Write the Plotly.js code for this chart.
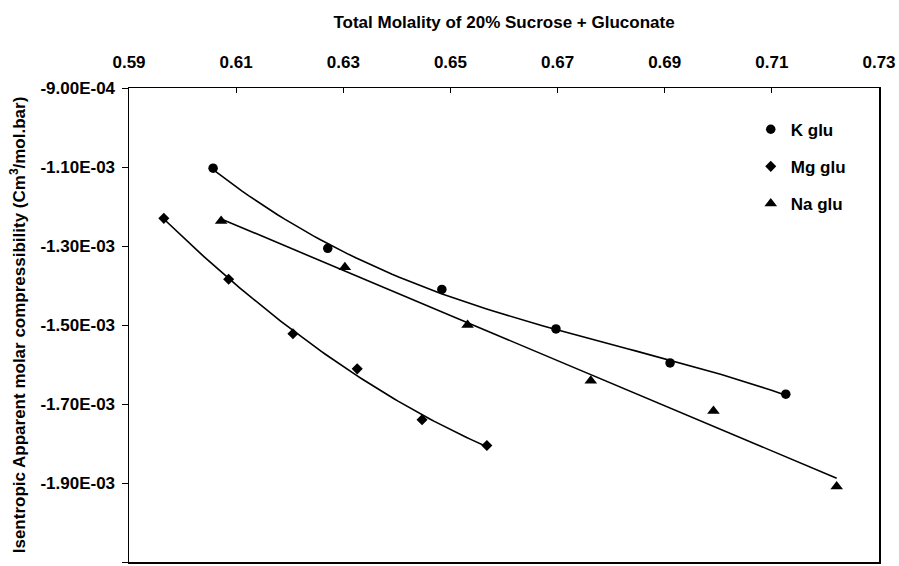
<!DOCTYPE html>
<html>
<head>
<meta charset="utf-8">
<script src="https://cdn.plot.ly/plotly-3.0.1.min.js"></script>
<style>
  html, body { margin: 0; padding: 0; background: #fff; }
  #chart { width: 899px; height: 566px; }
</style>
</head>
<body>
<div id="chart"></div>
<script>
// Total molality (mol/kg) and isentropic apparent molar compressibility (cm3/mol.bar)
const kGluX = [0.6057, 0.6271, 0.6484, 0.6697, 0.6910, 0.7126];
const kGluY = [-0.001103, -0.001306, -0.001410, -0.001510, -0.001596, -0.001675];

const mgGluX = [0.5965, 0.6086, 0.6206, 0.6326, 0.6447, 0.6568];
const mgGluY = [-0.001230, -0.001384, -0.001522, -0.001611, -0.001740, -0.001805];

const naGluX = [0.6072, 0.6303, 0.6532, 0.6762, 0.6991, 0.7221];
const naGluY = [-0.001237, -0.001354, -0.001500, -0.001641, -0.001718, -0.001909];

const xTickVals = [0.59, 0.61, 0.63, 0.65, 0.67, 0.69, 0.71, 0.73];
const xTickText = ['0.59', '0.61', '0.63', '0.65', '0.67', '0.69', '0.71', '0.73'];
const yTickVals = [-0.0009, -0.0011, -0.0013, -0.0015, -0.0017, -0.0019, -0.0021];
const yTickText = ['-9.00E-04', '-1.10E-03', '-1.30E-03', '-1.50E-03', '-1.70E-03', '-1.90E-03', '-2.10E-03'];

// Least-squares polynomial trendline (x centred for numerical stability)
function polyFit(xs, ys, deg) {
  const xm = xs.reduce((a, b) => a + b, 0) / xs.length;
  const n = deg + 1;
  const A = Array.from({length: n}, () => new Array(n + 1).fill(0));
  xs.forEach((x, i) => {
    const u = x - xm;
    for (let r = 0; r < n; r++) {
      for (let c = 0; c < n; c++) A[r][c] += Math.pow(u, r + c);
      A[r][n] += ys[i] * Math.pow(u, r);
    }
  });
  for (let p = 0; p < n; p++) {
    let best = p;
    for (let r = p + 1; r < n; r++) if (Math.abs(A[r][p]) > Math.abs(A[best][p])) best = r;
    const tmp = A[p]; A[p] = A[best]; A[best] = tmp;
    for (let r = 0; r < n; r++) {
      if (r === p) continue;
      const f = A[r][p] / A[p][p];
      for (let c = p; c <= n; c++) A[r][c] -= f * A[p][c];
    }
  }
  const coef = A.map((row, i) => row[n] / row[i]);
  return x => coef.reduce((s, c, i) => s + c * Math.pow(x - xm, i), 0);
}

// Sample the fitted curve across the span of the measured data
function trend(xs, ys, deg) {
  const f = polyFit(xs, ys, deg);
  const lo = Math.min(...xs), hi = Math.max(...xs);
  const tx = [], ty = [];
  for (let i = 0; i <= 80; i++) {
    const x = lo + (hi - lo) * i / 80;
    tx.push(x); ty.push(f(x));
  }
  return {tx, ty};
}

const kT = trend(kGluX, kGluY, 3);
const mgT = trend(mgGluX, mgGluY, 2);
const naT = trend(naGluX, naGluY, 1);

const lineStyle = {color: '#000', width: 1.6};
const FONT = 'Liberation Sans, Arial, Helvetica, sans-serif';

const traces = [
  {x: kT.tx, y: kT.ty, mode: 'lines', line: lineStyle, showlegend: false, hoverinfo: 'skip'},
  {x: mgT.tx, y: mgT.ty, mode: 'lines', line: lineStyle, showlegend: false, hoverinfo: 'skip'},
  {x: naT.tx, y: naT.ty, mode: 'lines', line: lineStyle, showlegend: false, hoverinfo: 'skip'},
  {x: kGluX, y: kGluY, mode: 'markers', name: 'K glu', legendgroup: 'k',
   marker: {symbol: 'circle', size: 9.5, color: '#000'}},
  {x: mgGluX, y: mgGluY, mode: 'markers', name: 'Mg glu', legendgroup: 'mg',
   marker: {symbol: 'diamond', size: 8.5, color: '#000'}},
  {x: naGluX, y: naGluY, mode: 'markers', name: 'Na glu', legendgroup: 'na',
   marker: {symbol: 'triangle-up', size: 11, color: '#000'}}
];

const layout = {
  width: 899, height: 566,
  margin: {l: 129, r: 20, t: 88, b: 4},
  paper_bgcolor: '#fff', plot_bgcolor: '#fff',
  font: {family: FONT, color: '#000', size: 17},
  showlegend: true,
  legend: {
    x: 0.829, y: 0.95, xanchor: 'left', yanchor: 'top',
    font: {family: FONT, size: 17, weight: 'bold', color: '#000'},
    tracegroupgap: 12, bgcolor: 'rgba(0,0,0,0)'
  },
  xaxis: {
    side: 'top', range: [0.59, 0.73], autorange: false,
    tickmode: 'array', tickvals: xTickVals, ticktext: xTickText,
    ticks: 'inside', ticklen: 5, tickcolor: '#000', tickwidth: 1,
    ticklabelstandoff: 12,
    showline: true, linecolor: '#000', linewidth: 1.5, mirror: true,
    showgrid: false, zeroline: false,
    tickfont: {family: FONT, size: 17, weight: 'bold', color: '#000'},
    title: {text: 'Total Molality of 20% Sucrose + Gluconate', standoff: 20,
            font: {family: FONT, size: 17, weight: 'bold', color: '#000'}}
  },
  yaxis: {
    range: [-0.0021, -0.0009], autorange: false,
    tickmode: 'array', tickvals: yTickVals, ticktext: yTickText,
    ticks: 'outside', ticklen: 6, tickcolor: '#000', tickwidth: 1,
    ticklabelstandoff: 3,
    showline: true, linecolor: '#000', linewidth: 1.5, mirror: true,
    showgrid: false, zeroline: false,
    tickfont: {family: FONT, size: 17, weight: 'bold', color: '#000'},
    title: {text: 'Isentropic Apparent molar compressibility (Cm<sup>3</sup>/mol.bar)', standoff: 10,
            font: {family: FONT, size: 17, weight: 'bold', color: '#000'}}
  }
};

Plotly.newPlot('chart', traces, layout, {staticPlot: true, displayModeBar: false});
</script>
</body>
</html>
